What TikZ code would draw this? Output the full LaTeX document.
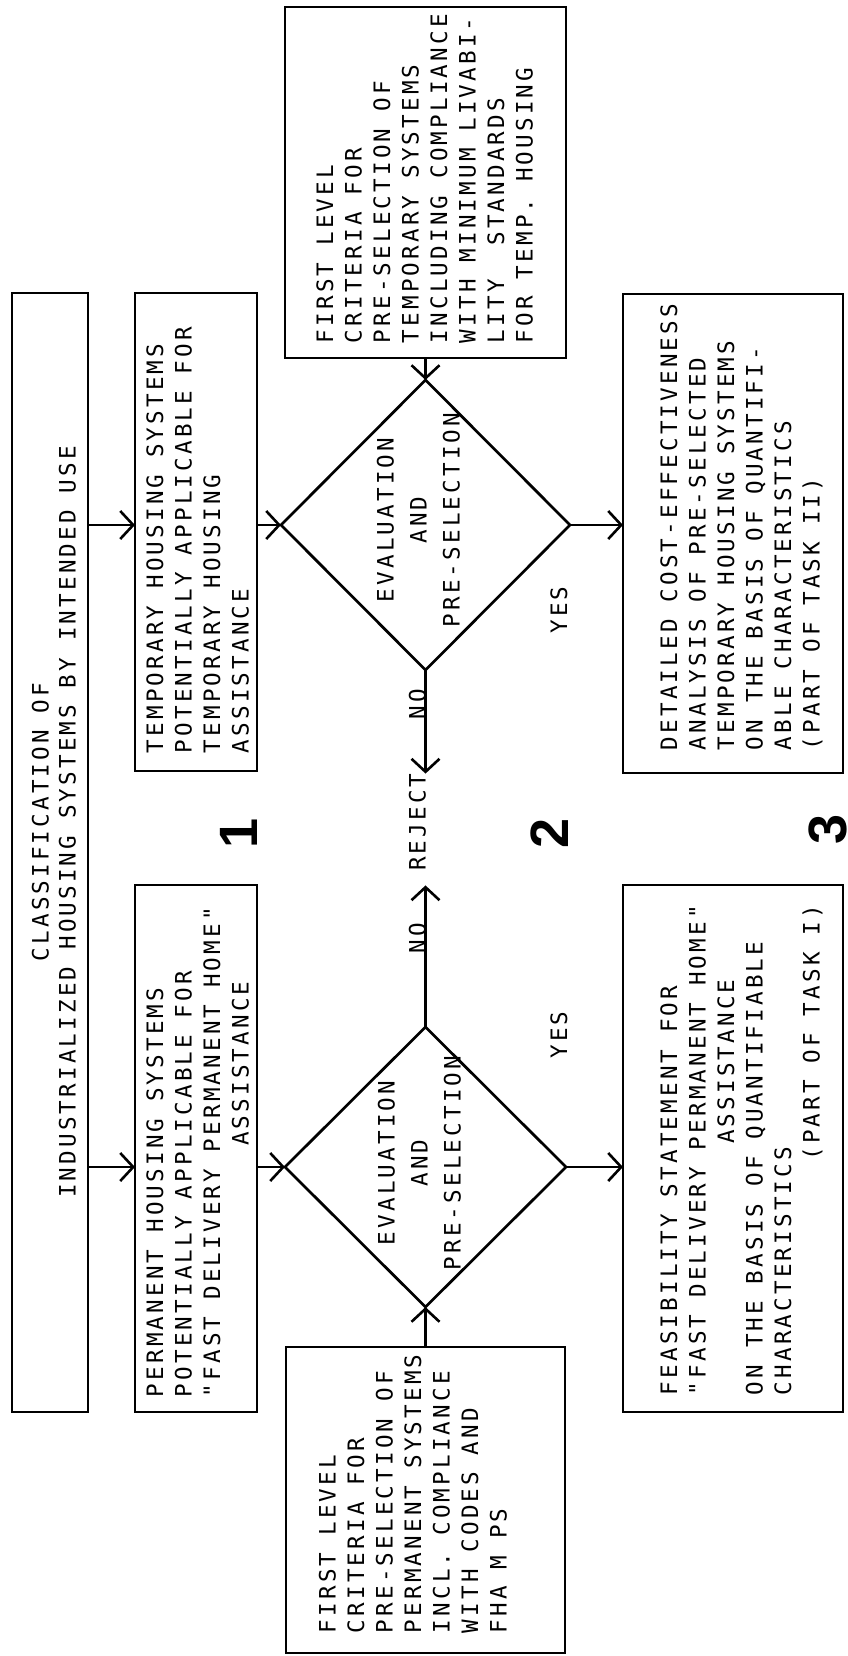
\documentclass[tikz,border=0pt]{standalone}
\usepackage{fontspec}
\usetikzlibrary{shapes.geometric,arrows.meta}
\newfontfamily\typew[LetterSpace=13.9]{DejaVu Sans Mono}
\newfontfamily\digitf{Liberation Sans}
\newdimen\tpitch \tpitch=16.75bp
\newcommand\twfont[1]{\fontsize{22.6bp}{#1}\typew\frenchspacing
  \fontdimen2\font=\tpitch\fontdimen3\font=0pt\fontdimen4\font=0pt}
\newcommand\indt[1]{\hspace*{#1\tpitch}}
\tikzset{
  box/.style={draw, line width=2.9bp, outer sep=0pt, inner sep=0pt},
  dec/.style={draw, diamond, line width=2.7bp, outer sep=0pt, inner sep=0pt},
  mono/.style={inner sep=0pt, outer sep=0pt, rotate=90,
    execute at begin node={\spaceskip=\tpitch\xspaceskip=\tpitch\relax}},
  txt/.style={mono, anchor=base west, text width=560bp,
    align=flush left, font=\twfont{28.5bp}},
  ctxt/.style={mono, anchor=base, text width=900bp,
    align=flush center, font=\twfont{27bp}},
  lbl/.style={mono, anchor=base, font=\twfont{20bp}},
  num/.style={rotate=90, inner sep=0pt, font=\fontsize{54bp}{54bp}\digitf\bfseries},
}
\begin{document}
\begin{tikzpicture}[x=1bp, y=-1bp, line width=2.6bp, >={Straight Barb[length=13bp,width=28bp]}]
  \fill[white] (0,0) rectangle (847,1656);
  \useasboundingbox (0,0) rectangle (847,1656);

  % boxes and decisions
  \node[box, minimum width=76bp, minimum height=1119bp] (cls) at (50,852.5) {};
  \node[box, minimum width=281bp, minimum height=351bp] (tcrit) at (425.5,182.5) {};
  \node[box, minimum width=122bp, minimum height=478bp] (tbox) at (196,532) {};
  \node[box, minimum width=220bp, minimum height=479bp] (dbox) at (733,533.5) {};
  \node[box, minimum width=122bp, minimum height=527bp] (pbox) at (196,1148.5) {};
  \node[box, minimum width=220bp, minimum height=527bp] (fbox) at (733,1148.5) {};
  \node[box, minimum width=279bp, minimum height=306bp] (pcrit) at (425.5,1500) {};
  \node[dec, minimum width=289bp, minimum height=290bp] (d1) at (425.5,525) {};
  \node[dec, minimum width=281bp, minimum height=280bp] (d2) at (425.5,1167) {};

  % texts
  \node[ctxt] (clstxt) at (48.5,822) {CLASSIFICATION OF\\INDUSTRIALIZED HOUSING SYSTEMS BY INTENDED USE};
  \node[txt] (tcrittxt) at (333,343) {FIRST LEVEL\\CRITERIA FOR\\PRE-SELECTION OF\\TEMPORARY SYSTEMS\\INCLUDING COMPLIANCE\\WITH MINIMUM LIVABI-\\LITY~~STANDARDS\\FOR TEMP. HOUSING};
  \node[txt] (tboxtxt) at (163,753) {TEMPORARY HOUSING SYSTEMS\\POTENTIALLY APPLICABLE FOR\\TEMPORARY HOUSING\\ASSISTANCE};
  \node[txt] (dboxtxt) at (677,750) {DETAILED COST-EFFECTIVENESS\\ANALYSIS OF PRE-SELECTED\\TEMPORARY HOUSING SYSTEMS\\ON THE BASIS OF QUANTIFI-\\ABLE CHARACTERISTICS\\(PART OF TASK II)};
  \node[txt] (pboxtxt) at (163,1397) {PERMANENT HOUSING SYSTEMS\\POTENTIALLY APPLICABLE FOR\\"FAST DELIVERY PERMANENT HOME"\\\indt{15}ASSISTANCE};
  \node[txt] (fboxtxt) at (677,1395) {FEASIBILITY STATEMENT FOR\\"FAST DELIVERY PERMANENT HOME"\\\indt{15}ASSISTANCE\\ON THE BASIS OF QUANTIFIABLE\\CHARACTERISTICS\\\indt{14}(PART OF TASK I)};
  \node[txt] (pcrittxt) at (335.5,1633) {FIRST LEVEL\\CRITERIA FOR\\PRE-SELECTION OF\\PERMANENT SYSTEMS\\INCL. COMPLIANCE\\WITH CODES AND\\FHA M PS};
  \node[ctxt, font=\twfont{33bp}] (d1txt) at (393.5,520) {EVALUATION\\AND\\PRE-SELECTION};
  \node[ctxt, font=\twfont{33bp}] (d2txt) at (394.5,1163) {EVALUATION\\AND\\PRE-SELECTION};

  \node[lbl] (reject) at (425.5,822.25) {REJECT};
  \node[lbl] (yes1) at (567,610) {YES};
  \node[lbl] (yes2) at (567,1035) {YES};
  \node[num] (n1) at (239,833) {1};
  \node[num] (n2) at (550,833) {2};
  \node[num] (n3) at (828,829) {3};

  % connectors
  \draw[->] (cls.east |- d1) -- (tbox.west |- d1);
  \draw[->] (tbox.east |- d1) -- (d1.west);
  \draw[->] (d1.east) -- (dbox.west |- d1);
  \draw[->] (tcrit.south) -- (d1.north);
  \draw[->] (d1.south) -- node[lbl, pos=.33] (no1) {NO} (d1.south |- reject.east);
  \draw[->, shorten >=14.5bp] (d2.north) -- node[lbl, pos=.57] (no2) {NO} (d2.north |- reject.west);
  \draw[->] (cls.east |- d2) -- (pbox.west |- d2);
  \draw[->] (pbox.east |- d2) -- (d2.west);
  \draw[->] (d2.east) -- (fbox.west |- d2);
  \draw[->] (pcrit.north) -- (d2.south);
\end{tikzpicture}
\end{document}
